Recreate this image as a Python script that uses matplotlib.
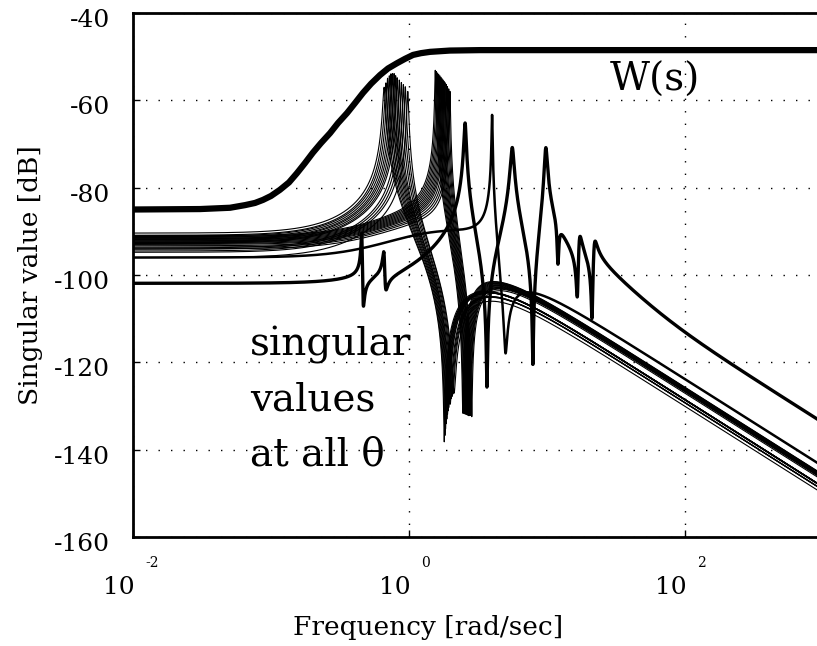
import numpy as np
import matplotlib.pyplot as plt
from matplotlib.transforms import ScaledTranslation

plt.rcParams['font.family'] = 'DejaVu Serif'

# Weighting function W(s), magnitude read at a set of frequencies
W_FREQ = [0.01, 0.0306, 0.0505, 0.0648, 0.0766, 0.0875, 0.1, 0.116, 0.135, 0.154, 0.176, 0.201, 0.230,
          0.268, 0.306, 0.356, 0.407, 0.464, 0.531, 0.617, 0.705, 0.818, 0.935, 1.07, 1.22, 1.42, 1.98,
          3.27, 1000.0]
W_DB = [-85.0, -84.9, -84.6, -84.0, -83.5, -82.8, -81.9, -80.5, -78.8, -76.7, -74.4, -72.0, -69.8,
        -67.5, -65.2, -62.9, -60.6, -58.3, -56.2, -54.2, -52.7, -51.5, -50.5, -49.6, -49.2, -48.9, -48.6,
        -48.5, -48.5]

# First family of singular values (one line per theta)
A_DC = [-90.4, -90.9, -91.1, -91.4, -91.7, -91.9, -92.2, -92.5, -92.7, -93.8, -94.1, -94.5, -94.8, -96.0]
A_PEAK_W = [0.66, 0.68, 0.70, 0.72, 0.74, 0.76, 0.78, 0.80, 0.82, 0.85, 0.88, 0.91, 0.94, 0.98]
A_PEAK_ZETA = [0.0174, 0.0148, 0.0129, 0.0118, 0.0109, 0.0107, 0.0104, 0.0107, 0.0111, 0.0105, 0.0109,
               0.0111, 0.0114, 0.0113]
A_NOTCH_W = [1.80, 1.82, 1.84, 1.86, 1.88, 1.90, 1.92, 1.94, 1.96, 1.99, 2.02, 2.05, 2.08, 2.12]
A_NOTCH_ZETA = [0.005, 0.006, 0.007, 0.008, 0.009, 0.010, 0.011, 0.012, 0.013, 0.014, 0.016, 0.017,
                0.018, 0.020]
A_ZERO = 0.35
A_POLES = [1.8, 1.8]

# Second family of singular values
B_DC = [-91.0, -91.2, -91.4, -91.6, -91.8, -92.0, -92.2, -92.4, -92.6, -92.8, -93.0, -93.3, -93.6, -94.0]
B_PEAK_W = [1.55, 1.58, 1.61, 1.64, 1.67, 1.70, 1.73, 1.76, 1.79, 1.82, 1.86, 1.90, 1.94, 1.98]
B_PEAK_ZETA = [0.0062] * 14
B_NOTCH_W = [2.45, 2.48, 2.51, 2.54, 2.57, 2.60, 2.63, 2.66, 2.69, 2.72, 2.75, 2.78, 2.81, 2.85]
B_NOTCH_ZETA = [0.005] * 14
B_ZERO = 0.45
B_POLES = [1.15, 1.8]

# theta-independent singular values: (kind, frequency, damping)
C1_DC = -101.9
C1_FACTORS = [
    ('mode', 0.455, 0.008), ('notch', 0.465, 0.012),
    ('mode', 0.66, 0.015), ('notch', 0.672, 0.02),
    ('zero', 1.0, 0), ('zero', 1.5, 0), ('pole', 3.0, 0), ('pole', 3.0, 0),
    ('zero', 6.8, 0), ('zero', 6.8, 0),
    ('mode', 2.55, 0.0148), ('notch', 3.67, 0.0047),
    ('mode', 5.6, 0.025), ('notch', 7.9, 0.0049),
    ('mode', 9.8, 0.02),
    ('notch', 12.0, 0.01), ('mode', 12.0, 0.03),
    ('notch', 16.6, 0.0115), ('mode', 17.1, 0.025),
    ('notch', 21.2, 0.0079), ('mode', 21.9, 0.028),
    ('pole', 20.0, 0), ('pole', 20.0, 0), ('zero', 50.0, 0),
]
C2_DC = -96.0
C2_FACTORS = [
    ('zero', 0.5, 0), ('mode', 4.0, 0.0056), ('notch', 5.0, 0.02),
    ('pole', 1.78, 0), ('pole', 1.78, 0),
]

w = np.logspace(-2, 3, 20000)


def sv_db(dc, factors):
    s = 1j * w
    h = np.ones_like(s)
    for kind, wn, zeta in factors:
        if kind == 'pole':
            h = h / (1 + s / wn)
        elif kind == 'zero':
            h = h * (1 + s / wn)
        elif kind == 'mode':
            h = h / (1 + 2 * zeta * s / wn + (s / wn) ** 2)
        elif kind == 'notch':
            h = h * (1 + 2 * zeta * s / wn + (s / wn) ** 2)
    return dc + 20 * np.log10(np.abs(h))


fig = plt.figure(figsize=(8.17, 6.46), dpi=100)
ax = fig.add_axes([133 / 817, 109 / 646, 690 / 817, 524 / 646])

for dc, wp, zp, wn, zn in zip(A_DC, A_PEAK_W, A_PEAK_ZETA, A_NOTCH_W, A_NOTCH_ZETA):
    f = [('zero', A_ZERO, 0), ('mode', wp, zp), ('notch', wn, zn)]
    f += [('pole', p, 0) for p in A_POLES]
    ax.semilogx(w, sv_db(dc, f), color='black', lw=0.8)

for dc, wp, zp, wn, zn in zip(B_DC, B_PEAK_W, B_PEAK_ZETA, B_NOTCH_W, B_NOTCH_ZETA):
    f = [('zero', B_ZERO, 0), ('mode', wp, zp), ('notch', wn, zn)]
    f += [('pole', p, 0) for p in B_POLES]
    ax.semilogx(w, sv_db(dc, f), color='black', lw=0.8)

ax.semilogx(w, sv_db(C2_DC, C2_FACTORS), color='black', lw=1.8)
ax.semilogx(w, sv_db(C1_DC, C1_FACTORS), color='black', lw=2.4)
ax.semilogx(W_FREQ, W_DB, color='black', lw=4.5, solid_capstyle='butt')

ax.set_xlim(1e-2, 1e3)
ax.set_ylim(-160, -40)
ax.set_yticks(np.arange(-160, -39, 20))
ax.set_yticklabels(['%d' % v for v in np.arange(-160, -39, 20)], fontsize=18)
ax.set_xticks([1e-2, 1e0, 1e2])
ax.set_xticklabels([])
ax.minorticks_off()
ax.tick_params(direction='in', length=5, width=1, pad=16.5)
for lab in ax.get_yticklabels():
    lab.set_transform(lab.get_transform() + ScaledTranslation(0, -5 / 100, fig.dpi_scale_trans))
ax.grid(True, color='black', linestyle=(0, (1, 8)), linewidth=1)
for sp in ax.spines.values():
    sp.set_linewidth(2)

# decade labels written as 10 with a raised exponent
for e in [-2, 0, 2]:
    ax.annotate('10', xy=(10.0 ** e, 0), xycoords=('data', 'axes fraction'), xytext=(2, -51),
                textcoords='offset pixels', ha='right', va='center', fontsize=18)
    ax.annotate('%d' % e, xy=(10.0 ** e, 0), xycoords=('data', 'axes fraction'), xytext=(12, -26),
                textcoords='offset pixels', ha='left', va='center', fontsize=10)

ax.text(0.691, 0.872, 'W(s)', transform=ax.transAxes, fontsize=28, va='center', ha='left')
for txt, yy in [('singular', 0.366), ('values', 0.261), ('at all θ', 0.156)]:
    ax.text(0.170, yy, txt, transform=ax.transAxes, fontsize=28, va='center', ha='left')

fig.text(0.037, 0.574, 'Singular value [dB]', rotation=90, fontsize=19, ha='center', va='center')
fig.text(428 / 817, 0.028, 'Frequency [rad/sec]', fontsize=19, ha='center', va='center')

fig.savefig('out.png', dpi=100)
